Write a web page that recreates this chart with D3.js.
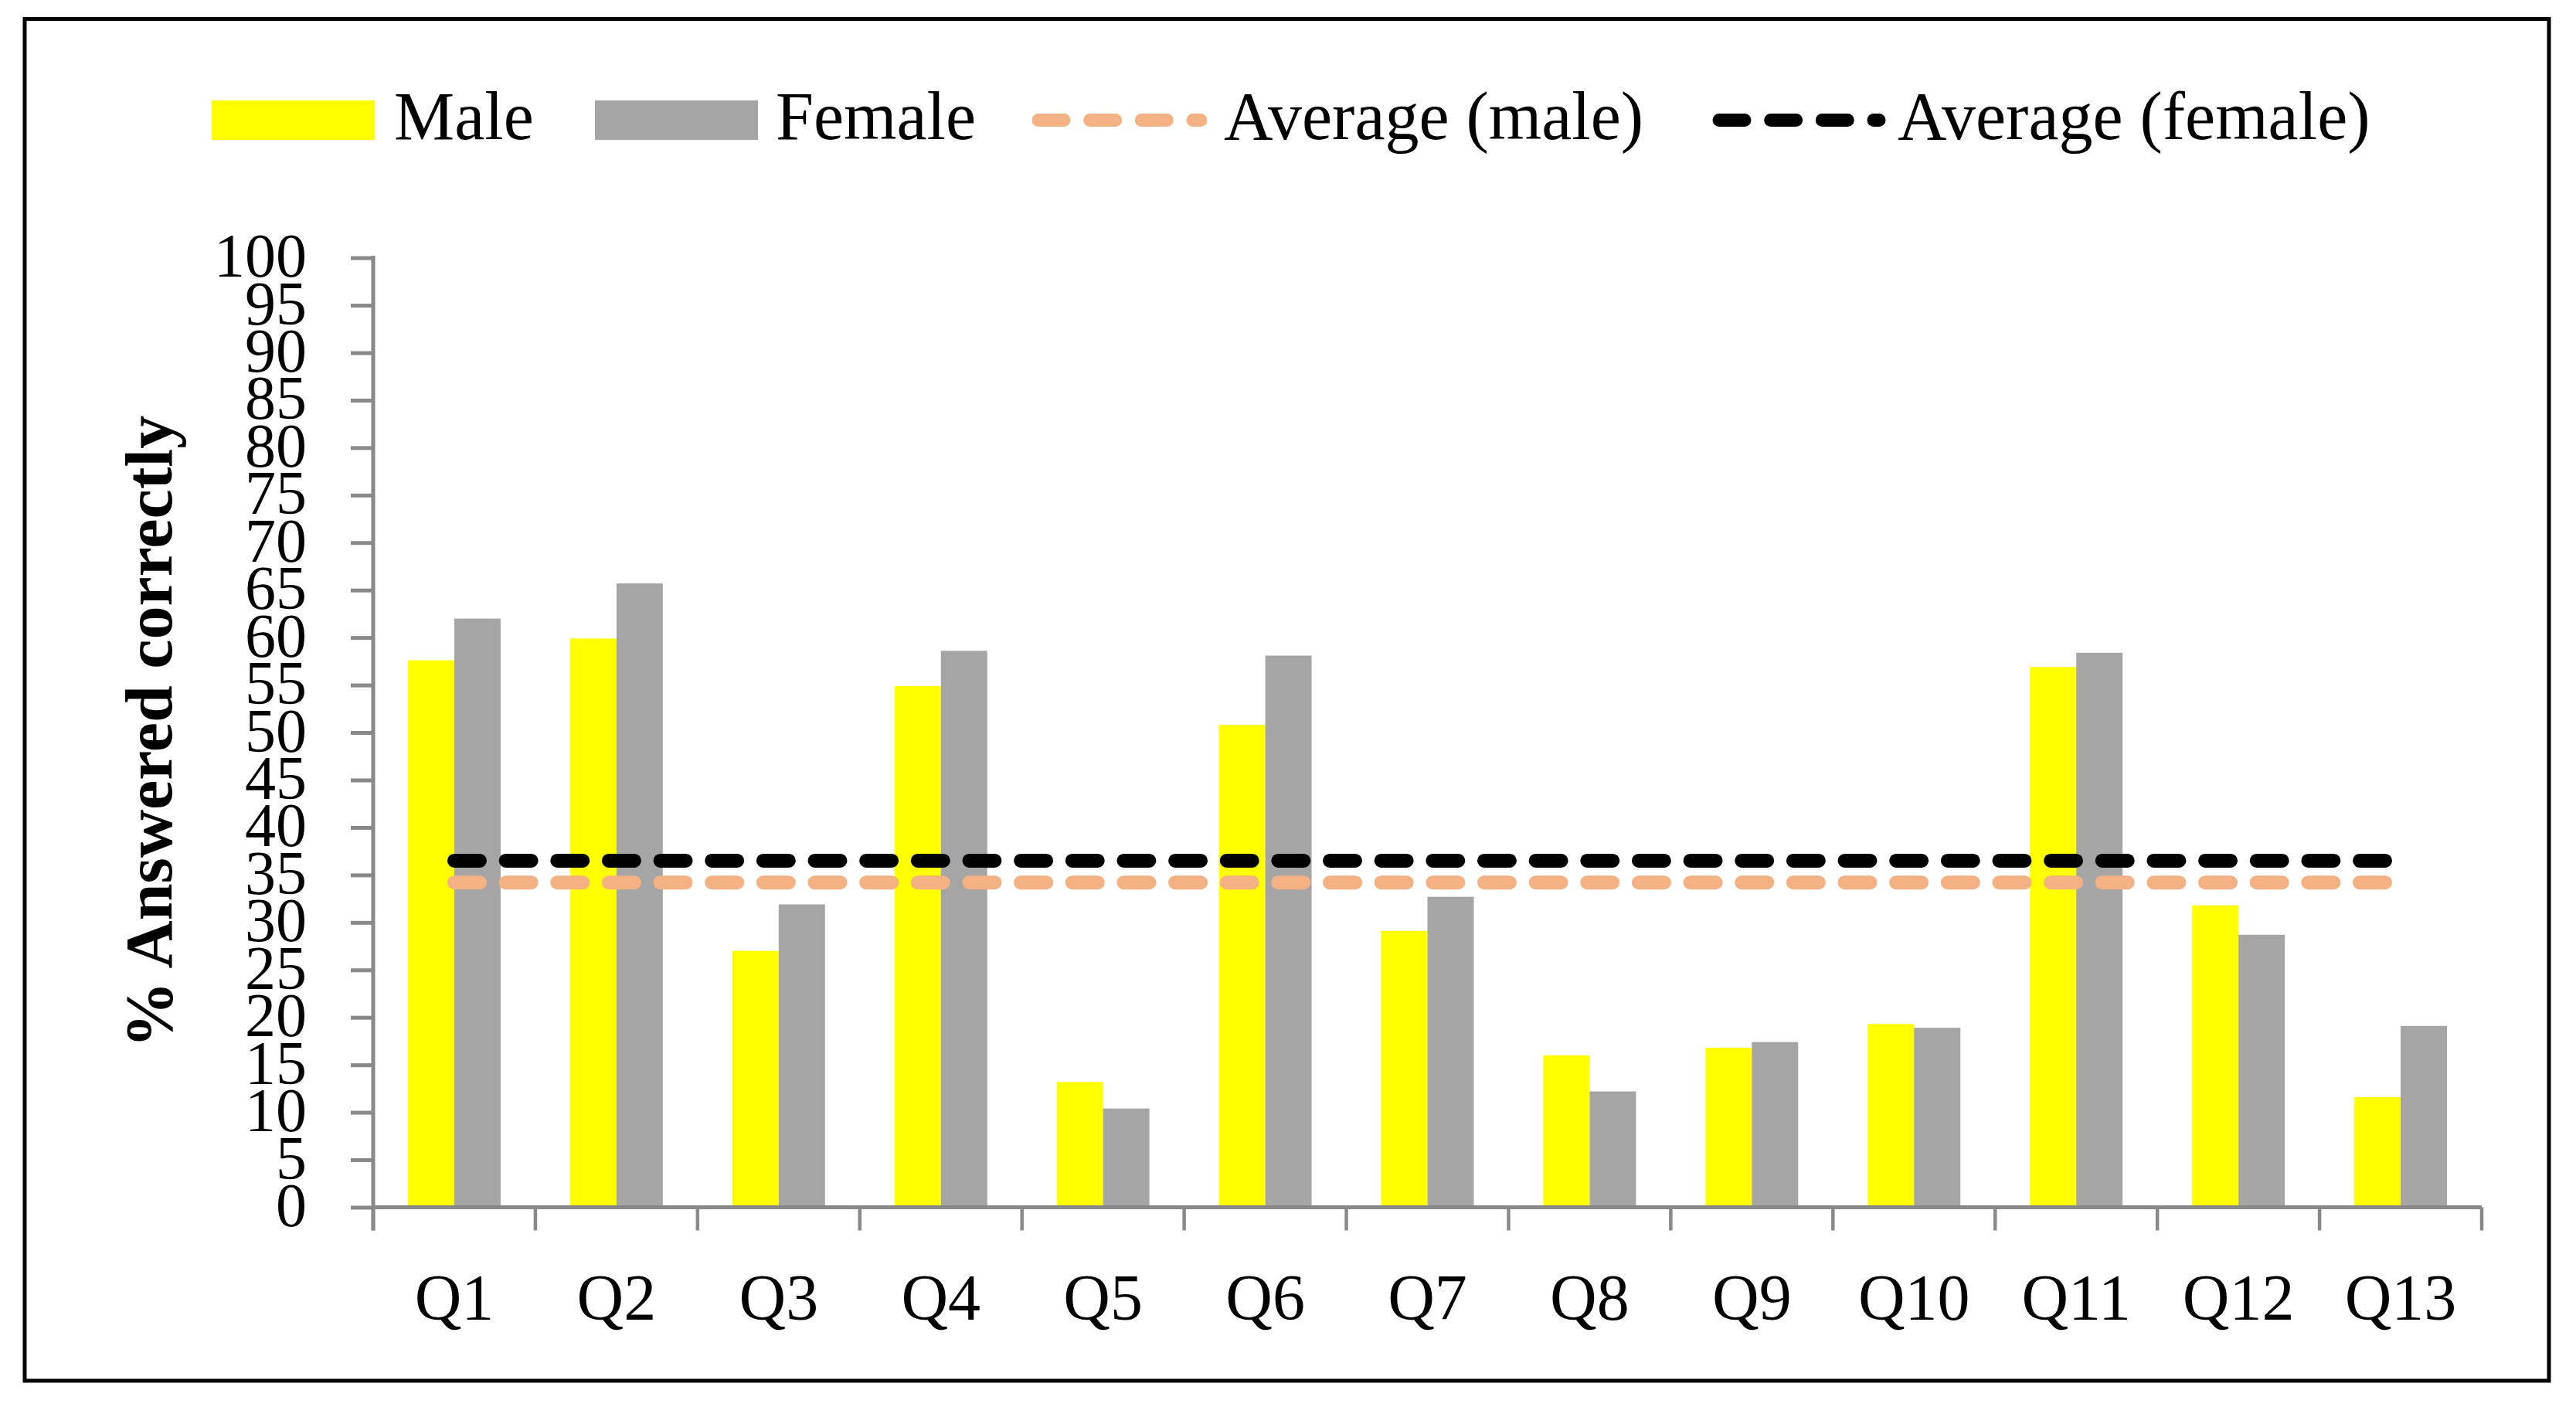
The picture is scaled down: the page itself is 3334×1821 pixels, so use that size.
<!DOCTYPE html>
<html>
<head>
<meta charset="utf-8">
<script src="https://d3js.org/d3.v7.min.js"></script>
<style>
  body { margin: 0; background: #fff; }
  text { font-family: "Liberation Serif", "Times New Roman", serif; fill: #000; }
</style>
</head>
<body>
<div id="chart"></div>
<script>
// values
var questions = ["Q1","Q2","Q3","Q4","Q5","Q6","Q7","Q8","Q9","Q10","Q11","Q12","Q13"];
var male   = [57.6, 59.9, 27.0, 54.9, 13.2, 50.8, 29.1, 16.0, 16.8, 19.3, 56.9, 31.8, 11.6];
var female = [62.0, 65.7, 31.9, 58.6, 10.4, 58.1, 32.7, 12.2, 17.4, 18.9, 58.4, 28.7, 19.1];
var avgMale = 34.2;
var avgFemale = 36.5;
var yTicks = d3.range(0, 101, 5);
var series = ["Male", "Female"];

var colors = { Male: "#FFFF00", Female: "#A5A5A5", avgMale: "#F4B183", avgFemale: "#000000" };
var axisColor = "#898989";

var W = 3334, H = 1821;
var svg = d3.select("#chart").append("svg")
    .attr("width", W)
    .attr("height", H);

svg.append("rect").attr("width", W).attr("height", H).attr("fill", "#fff");

// outer frame
svg.append("rect")
    .attr("x", 32).attr("y", 24.5)
    .attr("width", 3267).attr("height", 1762.5)
    .attr("fill", "none").attr("stroke", "#000").attr("stroke-width", 5);

// plot area (window.top is read-only, so no bare "top")
var pLeft = 483, pRight = 3212, pTop = 333.6, pBottom = 1562.5;

var x = d3.scaleBand().domain(questions).range([pLeft, pRight]).padding(0);
var bw = x.bandwidth();
var xs = d3.scaleBand().domain(series).range([bw * 0.2143, bw * 0.7857]).padding(0);
var y = d3.scaleLinear().domain([0, 100]).range([pBottom, pTop]);

// bars
var rows = questions.map(function(q, i){ return { q: q, Male: male[i], Female: female[i] }; });
var groups = svg.append("g").selectAll("g")
    .data(rows)
    .enter().append("g")
    .attr("transform", function(d){ return "translate(" + x(d.q) + ",0)"; });

groups.selectAll("rect")
    .data(function(d){ return series.map(function(s){ return { s: s, v: d[s] }; }); })
    .enter().append("rect")
    .attr("x", function(d){ return xs(d.s); })
    .attr("width", xs.bandwidth())
    .attr("y", function(d){ return y(d.v); })
    .attr("height", function(d){ return y(0) - y(d.v); })
    .attr("fill", function(d){ return colors[d.s]; });

// y axis
var yAxis = d3.axisLeft(y)
    .tickValues(yTicks)
    .tickSize(29)
    .tickPadding(57)
    .tickFormat(d3.format("d"));

var gy = svg.append("g")
    .attr("transform", "translate(" + pLeft + ",0)")
    .call(yAxis);
gy.select(".domain").remove();
gy.selectAll(".tick line").attr("stroke", axisColor).attr("stroke-width", 5);
gy.selectAll(".tick text")
    .attr("font-size", 80)
    .attr("dy", "0.30em")
    .style("font-family", "\"Liberation Serif\", serif");

// axis lines
svg.append("line")
    .attr("x1", pLeft).attr("x2", pLeft)
    .attr("y1", y(100) - 2.5).attr("y2", pBottom + 30)
    .attr("stroke", axisColor).attr("stroke-width", 5);
svg.append("line")
    .attr("x1", pLeft).attr("x2", pRight)
    .attr("y1", pBottom).attr("y2", pBottom)
    .attr("stroke", axisColor).attr("stroke-width", 5);

// x axis: ticks on category boundaries
var bounds = questions.map(function(q){ return x(q); }).concat([pRight]);
svg.append("g").selectAll("line")
    .data(bounds)
    .enter().append("line")
    .attr("x1", function(d){ return d; }).attr("x2", function(d){ return d; })
    .attr("y1", pBottom).attr("y2", pBottom + 30)
    .attr("stroke", axisColor).attr("stroke-width", 4.5);

svg.append("g").selectAll("text")
    .data(questions)
    .enter().append("text")
    .attr("x", function(d){ return x(d) + bw / 2; })
    .attr("y", 1708)
    .attr("text-anchor", "middle")
    .attr("font-size", 84)
    .text(function(d){ return d; });

// average lines
var x0 = x(questions[0]) + bw / 2, x1 = x(questions[questions.length - 1]) + bw / 2;
function avgLine(v, c){
    svg.append("line")
        .attr("x1", x0).attr("x2", x1)
        .attr("y1", y(v)).attr("y2", y(v))
        .attr("stroke", c).attr("stroke-width", 18)
        .attr("stroke-dasharray", "33,33.65")
        .attr("stroke-linecap", "round");
}
avgLine(avgMale, colors.avgMale);
avgLine(avgFemale, colors.avgFemale);

// y axis title
svg.append("text")
    .attr("transform", "translate(222,947) rotate(-90)")
    .attr("text-anchor", "middle")
    .attr("font-size", 86)
    .attr("font-weight", "bold")
    .text("% Answered correctly");

// legend
var ly = 155.5;
var legend = svg.append("g");
legend.append("rect").attr("x", 274).attr("y", 130).attr("width", 211).attr("height", 51).attr("fill", colors.Male);
legend.append("text").attr("x", 510).attr("y", 180).attr("font-size", 88).text("Male");
legend.append("rect").attr("x", 770).attr("y", 130).attr("width", 211).attr("height", 51).attr("fill", colors.Female);
legend.append("text").attr("x", 1004).attr("y", 180).attr("font-size", 88).text("Female");

legend.append("line").attr("x1", 1344).attr("x2", 1554).attr("y1", ly).attr("y2", ly)
    .attr("stroke", colors.avgMale).attr("stroke-width", 17)
    .attr("stroke-dasharray", "33,33.65").attr("stroke-linecap", "round");
legend.append("text").attr("x", 1584).attr("y", 180).attr("font-size", 88).text("Average (male)");

legend.append("line").attr("x1", 2225).attr("x2", 2432).attr("y1", ly).attr("y2", ly)
    .attr("stroke", colors.avgFemale).attr("stroke-width", 17)
    .attr("stroke-dasharray", "33,33.65").attr("stroke-linecap", "round");
legend.append("text").attr("x", 2456).attr("y", 180).attr("font-size", 88).text("Average (female)");
</script>
</body>
</html>
